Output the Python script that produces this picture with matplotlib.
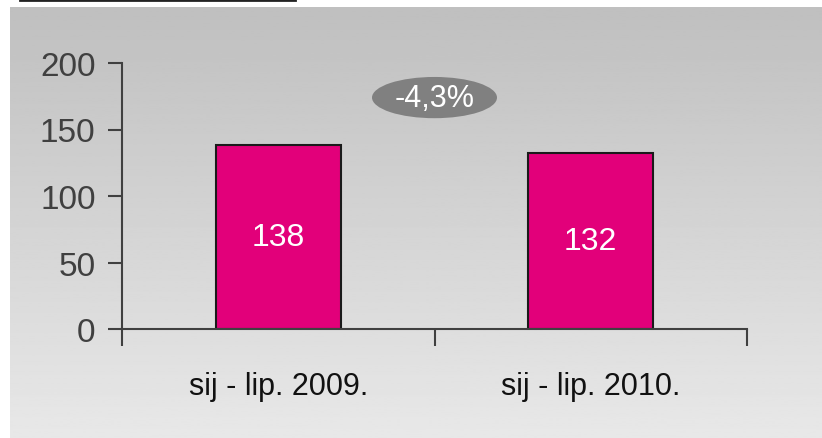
import numpy as np
import matplotlib.pyplot as plt
from matplotlib.patches import Ellipse
from matplotlib.lines import Line2D

periods = ["sij - lip. 2009.", "sij - lip. 2010."]
values = [138, 132]
change_label = "-4,3%"
yticks = [0, 50, 100, 150, 200]

plt.rcParams['font.family'] = ['Liberation Sans', 'DejaVu Sans']

fig = plt.figure(figsize=(8.22, 4.39), dpi=100)

# grey gradient panel behind the chart
bg = fig.add_axes([10 / 822, 0, 812 / 822, 431 / 439])
grad = np.linspace(0.75, 0.91, 256).reshape(-1, 1)
bg.imshow(grad, aspect='auto', cmap='gray', vmin=0, vmax=1, extent=[0, 1, 1, 0])
bg.set_axis_off()

# cut-off underlined title at the very top
fig.add_artist(Line2D([20 / 822, 295 / 822], [0.997, 0.997], color='#222222', lw=2))

ax = fig.add_axes([122 / 822, 1 - 330 / 439, 625 / 822, 266 / 439])
ax.patch.set_visible(False)

x = np.arange(len(values))
bars = ax.bar(x, values, width=0.4, color='#E2007A', edgecolor='#1a1a1a', linewidth=1.5)
for xi, v in zip(x, values):
    ax.text(xi, v / 2, str(v), ha='center', va='center', color='white', fontsize=23)

ax.set_xlim(-0.5, len(values) - 0.5)
ax.set_ylim(0, 200)
ax.set_yticks(yticks)
ax.set_yticklabels([str(t) for t in yticks], fontsize=24, color='#404040')
ax.tick_params(axis='y', direction='out', length=10, width=1.5, color='#404040', pad=9)

ax.set_xticks(x)
ax.set_xticklabels(periods, fontsize=22, color='#111111')
ax.tick_params(axis='x', length=0, pad=30)
ax.set_xticks([-0.5, 0.5, 1.5], minor=True)
ax.tick_params(axis='x', which='minor', direction='out', length=12, width=1.5, color='#404040')

for side in ['top', 'right']:
    ax.spines[side].set_visible(False)
for side in ['left', 'bottom']:
    ax.spines[side].set_color('#404040')
    ax.spines[side].set_linewidth(1.5)

# change badge between the bars
ax.add_patch(Ellipse((0.5, 174), 0.4, 31, facecolor='#808080', edgecolor='none'))
ax.text(0.5, 174, change_label, ha='center', va='center', color='white', fontsize=22)

fig.savefig('out.png', dpi=100)
